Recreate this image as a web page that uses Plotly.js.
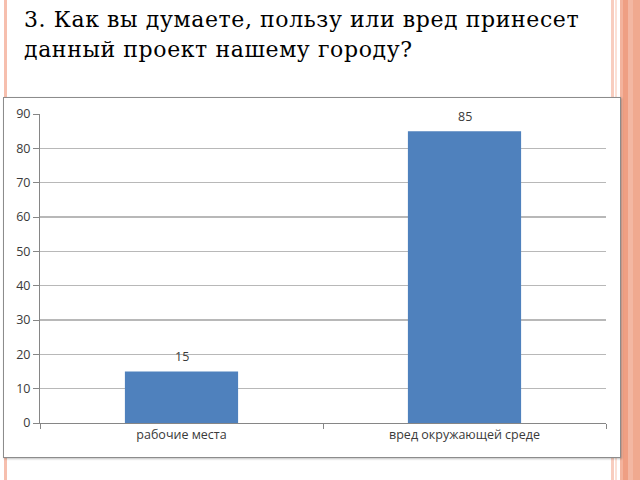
<!DOCTYPE html>
<html>
<head>
<meta charset="utf-8">
<script src="https://cdn.plot.ly/plotly-3.0.1.min.js"></script>
<style>
  html, body { margin: 0; padding: 0; background: #fff; }
  body { width: 640px; height: 480px; position: relative; overflow: hidden; }
  /* slide decoration */
  .ln-left  { position: absolute; left: 4px; top: 0; width: 3px; height: 480px; background: #f6bfae; }
  .ln-r1    { position: absolute; left: 611px; top: 0; width: 3px; height: 480px; background: #f8cdbf; }
  .ln-r2    { position: absolute; left: 615px; top: 0; width: 2px; height: 480px; background: #fbe0d6; }
  .band     { position: absolute; left: 620px; top: 0; width: 20px; height: 480px;
              background: linear-gradient(to right, #f3b39d 0 3px, #ef9f83 3px 8px, #f3b7a2 8px 13px, #f0a98f 13px 20px); }
  .title { position: absolute; left: 24px; top: 5px; width: 600px;
           font-family: "DejaVu Serif", serif; font-size: 22px; letter-spacing: 0.6px;
           line-height: 30px; color: #000; }
  .box { position: absolute; left: 3px; top: 97px; width: 616px; height: 359px;
         border: 1px solid #8c8c8c; background: #fff; box-shadow: 1px 1px 2px rgba(0,0,0,0.25); }
  #chart { position: absolute; left: 0; top: 0; width: 616px; height: 359px; }
</style>
</head>
<body>
<div class="ln-left"></div>
<div class="ln-r1"></div>
<div class="ln-r2"></div>
<div class="band"></div>
<div class="title">3. Как вы думаете, пользу или вред принесет<br>данный проект нашему городу?</div>
<div class="box"><div id="chart"></div></div>
<script>
  // categories and values
  const categories = ["рабочие места", "вред окружающей среде"];
  const values = [15, 85];
  const yTicks = [0, 10, 20, 30, 40, 50, 60, 70, 80, 90];

  const FONT = { family: "Open Sans, Lato, sans-serif", size: 12.5, color: "#3a3a3a" };

  const bars = {
    type: "bar",
    x: categories,
    y: values,
    marker: { color: "#4f81bd", line: { width: 0 } },
    hoverinfo: "skip",
  };

  // value labels floating above each bar
  const labels = categories.map((c, i) => ({
    x: c, y: values[i], xref: "x", yref: "y",
    text: String(values[i]), showarrow: false,
    yshift: 15, font: FONT,
  }));

  Plotly.newPlot("chart", [bars], {
    width: 616, height: 359,
    margin: { l: 36, r: 14, t: 16, b: 34 },
    paper_bgcolor: "rgba(0,0,0,0)",
    plot_bgcolor: "rgba(0,0,0,0)",
    showlegend: false,
    bargap: 0.6,
    font: FONT,
    xaxis: {
      type: "category",
      showline: true, linecolor: "#868686", linewidth: 1,
      ticks: "outside", tickson: "boundaries", ticklen: 5, tickcolor: "#868686",
      showgrid: false, zeroline: false,
      tickfont: FONT,
    },
    yaxis: {
      range: [0, 90], tickvals: yTicks, ticktext: yTicks.map(String),
      showline: true, linecolor: "#868686", linewidth: 1,
      ticks: "outside", ticklen: 6, tickcolor: "#868686",
      showgrid: true, gridcolor: "#b8b8b8", gridwidth: 1.6,
      zeroline: false,
      tickfont: FONT,
    },
    annotations: labels,
  }, { displayModeBar: false, staticPlot: true });
</script>
</body>
</html>
